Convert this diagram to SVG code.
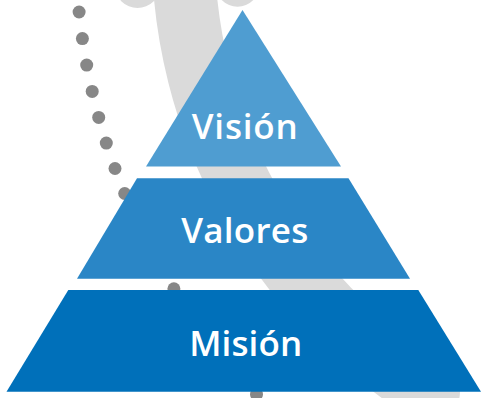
<svg xmlns="http://www.w3.org/2000/svg" width="485" height="398" viewBox="0 0 485 398">
  <style>
    .bg { fill: #DADADA; }
    .band { fill: none; stroke: #DADADA; stroke-width: 63; stroke-linecap: round; }
    .dot { fill: #878787; }
    .label { font-family: "Open Sans", "Liberation Sans", sans-serif; font-weight: 600; font-size: 35px; fill: #FFFFFF; text-anchor: middle; }
    .l1 { fill: #4F9DD1; }
    .l2 { fill: #2A86C6; }
    .l3 { fill: #0070BA; }
  </style>
  <rect width="485" height="398" fill="#FFFFFF"/>
  <g id="background">
    <circle class="bg" cx="137.5" cy="-14.5" r="22.5"/>
    <circle class="bg" cx="237.5" cy="-15.3" r="22"/>
    <path class="band" d="M 183,-54 A 526 526 0 0 0 428.5,391.6"/>
  </g>
  <g id="dots">
    <circle class="dot" cx="79.1" cy="12.0" r="6.5"/>
    <circle class="dot" cx="82.4" cy="38.6" r="6.5"/>
    <circle class="dot" cx="86.7" cy="65.1" r="6.5"/>
    <circle class="dot" cx="92.2" cy="91.4" r="6.5"/>
    <circle class="dot" cx="98.7" cy="117.4" r="6.5"/>
    <circle class="dot" cx="106.3" cy="143.1" r="6.5"/>
    <circle class="dot" cx="115.0" cy="168.5" r="6.5"/>
    <circle class="dot" cx="124.7" cy="193.5" r="6.5"/>
    <circle class="dot" cx="135.6" cy="218.1" r="6.5"/>
    <circle class="dot" cx="147.3" cy="242.2" r="6.5"/>
    <circle class="dot" cx="160.1" cy="265.7" r="6.5"/>
    <circle class="dot" cx="173.9" cy="288.8" r="6.5"/>
    <circle class="dot" cx="188.6" cy="311.2" r="6.5"/>
    <circle class="dot" cx="204.1" cy="332.8" r="6.5"/>
    <circle class="dot" cx="220.7" cy="354.0" r="6.5"/>
    <circle class="dot" cx="238.2" cy="374.6" r="6.5"/>
    <circle class="dot" cx="256.5" cy="394.3" r="6.5"/>
  </g>
  <g id="vision">
    <polygon class="l1" points="242.5,10 146,166.5 341,166.5"/>
    <text class="label" x="244.7" y="139.3" textLength="106" lengthAdjust="spacing">Visión</text>
  </g>
  <g id="valores">
    <polygon class="l2" points="137,178.3 348.5,178.3 410,278.7 77,278.7"/>
    <text class="label" x="244.7" y="242.7" textLength="127" lengthAdjust="spacing">Valores</text>
  </g>
  <g id="mision">
    <polygon class="l3" points="68.3,290 418.3,290 481,391.7 6.5,391.7"/>
    <text class="label" x="245.7" y="355.7" textLength="113" lengthAdjust="spacing">Misión</text>
  </g>
</svg>
